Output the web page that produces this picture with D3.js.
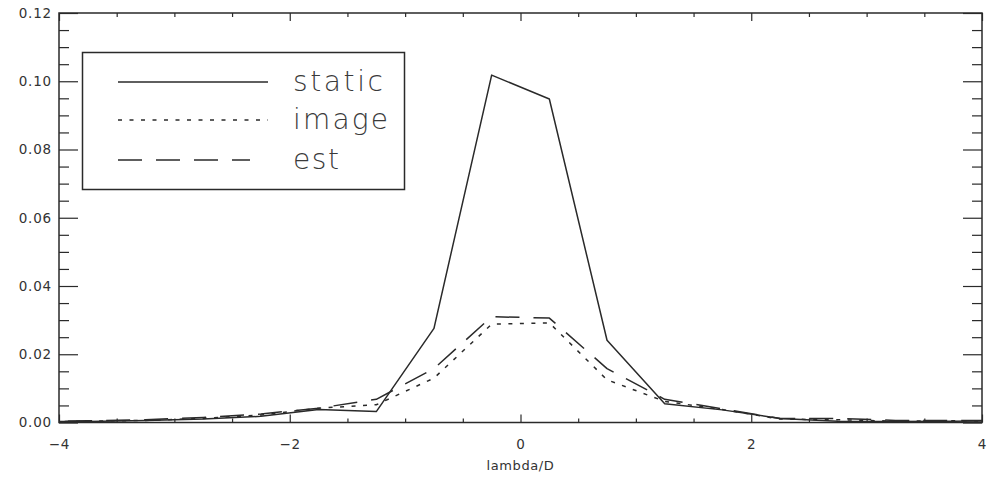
<!DOCTYPE html>
<html>
<head>
<meta charset="utf-8">
<script src="https://cdn.jsdelivr.net/npm/d3@7"></script>
<style>
  html, body { margin: 0; padding: 0; background: #fff; }
  svg { display: block; }
</style>
</head>
<body>
<svg id="chart" width="987" height="477"></svg>
<script>
// ---- data ----
const xs = [-4.25, -3.75, -3.25, -2.75, -2.25, -1.75, -1.25, -0.75, -0.25, 0.25, 0.75, 1.25, 1.75, 2.25, 2.75, 3.25, 3.75, 4.25];
const staticVals = [0.0003, 0.0003, 0.0006, 0.0010, 0.0018, 0.0038, 0.0032, 0.0276, 0.1018, 0.0948, 0.0241, 0.0055, 0.0037, 0.0012, 0.0004, 0.0003, 0.0004, 0.0005];
const imageVals  = [0.0002, 0.0004, 0.0006, 0.0012, 0.0022, 0.0042, 0.0052, 0.0130, 0.0288, 0.0292, 0.0125, 0.0062, 0.0038, 0.0010, 0.0008, 0.0004, 0.0005, 0.0004];
const estVals    = [0.0004, 0.0005, 0.0008, 0.0015, 0.0025, 0.0042, 0.0068, 0.0158, 0.0310, 0.0306, 0.0158, 0.0068, 0.0040, 0.0012, 0.0012, 0.0006, 0.0006, 0.0006];
const seriesNames = ["static", "image", "est"];
const xTicks = [-4, -2, 0, 2, 4];
const yTicks = [0, 0.02, 0.04, 0.06, 0.08, 0.10, 0.12];
const xLabel = "lambda/D";

// ---- layout ----
const svg = d3.select("#chart");
const L = 59, R = 982, T = 13, B = 422.5;
const x = d3.scaleLinear().domain([-4, 4]).range([L, R]);
const y = d3.scaleLinear().domain([0, 0.12]).range([B, T]);
const ink = "#2a2a2a";

const xMinor = d3.range(-4, 4.001, 0.5).filter(v => Math.abs(v % 2) > 1e-9);
const yMinor = d3.range(0, 0.1201, 0.005).filter(v => Math.abs((v / 0.02) - Math.round(v / 0.02)) > 1e-6);

svg.append("defs").append("clipPath").attr("id", "clip")
  .append("rect").attr("x", L).attr("y", T).attr("width", R - L).attr("height", B - T);

function styleAxis(g) {
  g.select(".domain").remove();
  g.selectAll("line").attr("stroke", ink).attr("stroke-width", 1.2);
  g.selectAll("text").attr("fill", "#333").attr("font-family", "DejaVu Sans, sans-serif")
    .attr("font-size", 13.5).attr("letter-spacing", 0.8);
}

svg.append("g").attr("transform", `translate(0,${B})`)
  .call(d3.axisBottom(x).tickValues(xTicks).tickSize(-8).tickPadding(17).tickFormat(d3.format("d")))
  .call(styleAxis);
svg.append("g").attr("transform", `translate(0,${B})`)
  .call(d3.axisBottom(x).tickValues(xMinor).tickSize(-4).tickFormat(""))
  .call(styleAxis);
svg.append("g").attr("transform", `translate(0,${T})`)
  .call(d3.axisTop(x).tickValues(xTicks).tickSize(-8).tickFormat(""))
  .call(styleAxis);
svg.append("g").attr("transform", `translate(0,${T})`)
  .call(d3.axisTop(x).tickValues(xMinor).tickSize(-4).tickFormat(""))
  .call(styleAxis);
svg.append("g").attr("transform", `translate(${L},0)`)
  .call(d3.axisLeft(y).tickValues(yTicks).tickSize(-19).tickPadding(7).tickFormat(d3.format(".2f")))
  .call(styleAxis);
svg.append("g").attr("transform", `translate(${L},0)`)
  .call(d3.axisLeft(y).tickValues(yMinor).tickSize(-10).tickFormat(""))
  .call(styleAxis);
svg.append("g").attr("transform", `translate(${R},0)`)
  .call(d3.axisRight(y).tickValues(yTicks).tickSize(-19).tickFormat(""))
  .call(styleAxis);
svg.append("g").attr("transform", `translate(${R},0)`)
  .call(d3.axisRight(y).tickValues(yMinor).tickSize(-10).tickFormat(""))
  .call(styleAxis);

svg.append("rect").attr("x", L).attr("y", T).attr("width", R - L).attr("height", B - T)
  .attr("fill", "none").attr("stroke", ink).attr("stroke-width", 1.5);

svg.append("text").attr("x", x(0)).attr("y", 470).attr("text-anchor", "middle")
  .attr("font-family", "DejaVu Sans, sans-serif").attr("font-size", 13).attr("fill", "#333")
  .attr("letter-spacing", 0.6).text(xLabel);

const dashes = ["none", "4,7.5", "24,14"];
const allVals = [staticVals, imageVals, estVals];
const line = d3.line().x((d, i) => x(xs[i])).y(d => y(d));
const plot = svg.append("g").attr("clip-path", "url(#clip)");
allVals.forEach((vals, k) => {
  plot.append("path").datum(vals).attr("d", line)
    .attr("fill", "none").attr("stroke", ink).attr("stroke-width", 1.5)
    .attr("stroke-dasharray", dashes[k]).attr("stroke-linejoin", "round");
});

const lg = svg.append("g");
lg.append("rect").attr("x", 82.5).attr("y", 52.5).attr("width", 322).attr("height", 137)
  .attr("fill", "#fff").attr("stroke", ink).attr("stroke-width", 1.5);
const legY = [82, 120, 160];
const legEnd = [268, 268, 250];
const legLen = [90, 95, 46];
seriesNames.forEach((name, k) => {
  lg.append("line").attr("x1", 118).attr("x2", legEnd[k]).attr("y1", legY[k]).attr("y2", legY[k])
    .attr("stroke", ink).attr("stroke-width", 1.5).attr("stroke-dasharray", dashes[k]);
  lg.append("text").attr("x", 293).attr("y", legY[k] + 9).attr("fill", "#3a3a3a")
    .attr("font-family", "DejaVu Sans, sans-serif").attr("font-weight", 200)
    .attr("font-size", 28).attr("textLength", legLen[k]).attr("lengthAdjust", "spacing")
    .text(name);
});
</script>
</body>
</html>
